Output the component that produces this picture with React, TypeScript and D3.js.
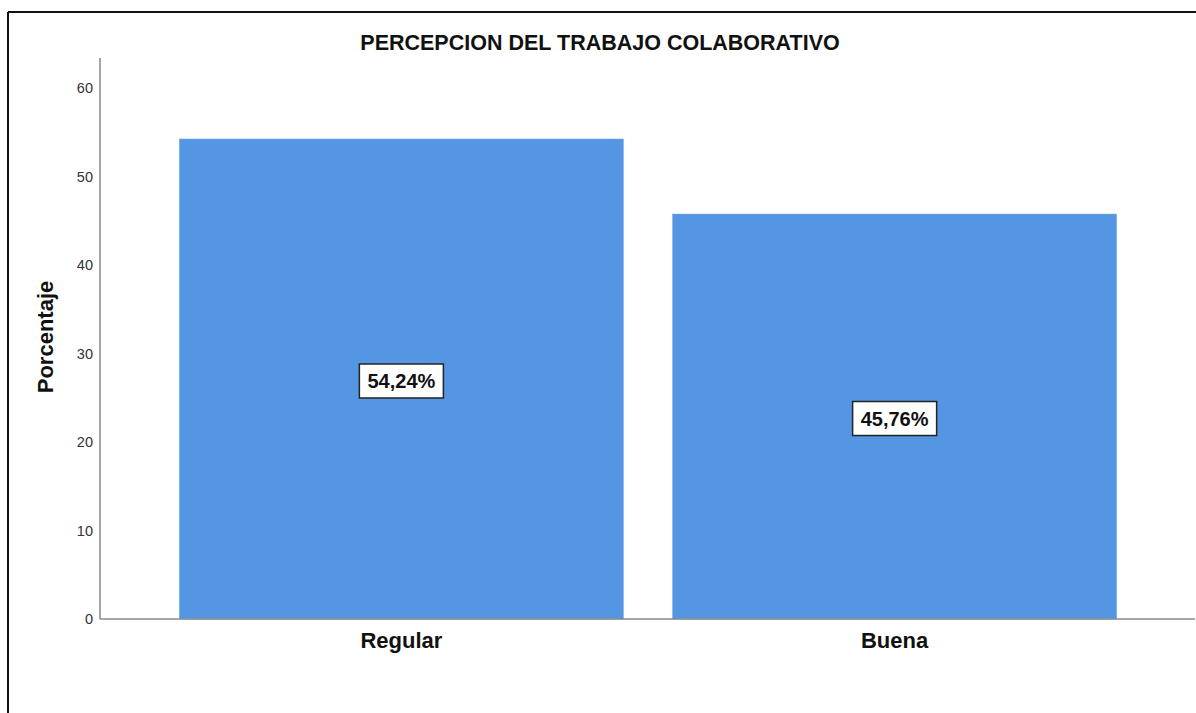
import React from 'react';
import * as d3 from 'd3';

const categories = ['Regular', 'Buena'];
const percentages = [54.24, 45.76];
const labels = ['54,24%', '45,76%'];
const yTicks = [0, 10, 20, 30, 40, 50, 60];

export default function App() {
  const width = 1196;
  const height = 713;
  const plotLeft = 100;
  const plotRight = 1195;
  const plotBottom = 619;
  const axisTop = 58;

  const y = d3.scaleLinear().domain([0, 60]).range([plotBottom, 88]);
  const x = d3.scaleBand().domain(categories).range([130, 1166]).paddingInner(0.0996).paddingOuter(0.1);

  return (
    <div style={{ position: 'fixed', left: 0, top: 0, width, height, background: '#fff' }}>
      <svg width={width} height={height} style={{ display: 'block', fontFamily: 'Arial, "Liberation Sans", sans-serif' }}>
        <rect x={0} y={0} width={width} height={height} fill="#fff" />
        {/* outer frame */}
        <line x1={8} y1={12} x2={width} y2={12} stroke="#111" strokeWidth={2} />
        <line x1={8} y1={12} x2={8} y2={height} stroke="#111" strokeWidth={2} />

        <text x={600} y={50} textAnchor="middle" fontSize={21.5} fontWeight="bold" fill="#111">
          PERCEPCION DEL TRABAJO COLABORATIVO
        </text>

        {categories.map((c, i) => (
          <rect
            key={c}
            x={x(c)}
            y={y(percentages[i])}
            width={x.bandwidth()}
            height={plotBottom - y(percentages[i])}
            fill="#5596E3"
            stroke="#7fb0ec"
            strokeWidth={0.6}
          />
        ))}

        {/* axes */}
        <line x1={plotLeft} y1={axisTop} x2={plotLeft} y2={plotBottom} stroke="#888" strokeWidth={1.5} />
        <line x1={plotLeft} y1={plotBottom} x2={plotRight} y2={plotBottom} stroke="#888" strokeWidth={1.5} />

        {yTicks.map(t => (
          <text key={t} x={93} y={y(t)} dy="0.35em" textAnchor="end" fontSize={14.5} fill="#333">
            {t}
          </text>
        ))}

        <text
          transform={`translate(53,${337}) rotate(-90)`}
          textAnchor="middle"
          fontSize={22}
          fontWeight="bold"
          fill="#111"
        >
          Porcentaje
        </text>

        {categories.map(c => (
          <text key={c} x={x(c)! + x.bandwidth() / 2} y={648} textAnchor="middle" fontSize={22} fontWeight="bold" fill="#111">
            {c}
          </text>
        ))}

        {categories.map((c, i) => {
          const cx = x(c)! + x.bandwidth() / 2;
          const cy = (y(percentages[i]) + plotBottom) / 2 + 2;
          return (
            <g key={c + '-lab'}>
              <rect x={cx - 42} y={cy - 17} width={84} height={34} fill="#fff" stroke="#222" strokeWidth={1.5} />
              <text x={cx} y={cy} dy="0.36em" textAnchor="middle" fontSize={20} fontWeight="bold" fill="#111">
                {labels[i]}
              </text>
            </g>
          );
        })}
      </svg>
    </div>
  );
}
